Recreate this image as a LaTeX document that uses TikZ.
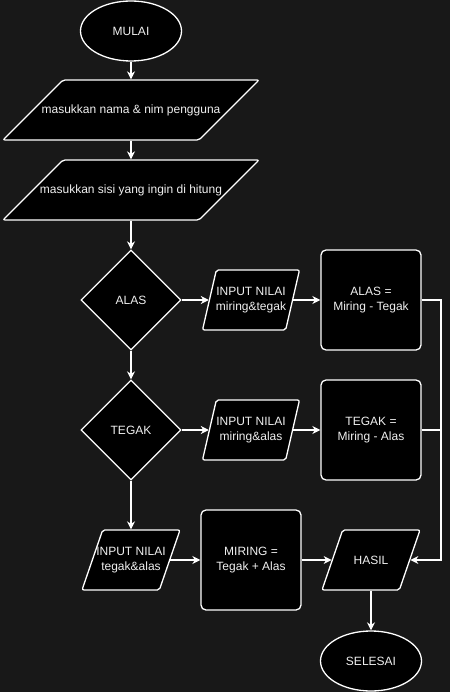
\documentclass[tikz,border=0pt]{standalone}
\usepackage{fontspec}
\setmainfont{Liberation Sans}
\usepackage{xcolor}
\usepackage{tikz}
\usetikzlibrary {arrows.meta}
\usetikzlibrary{calc}
\usetikzlibrary{shapes.geometric, shapes.misc}
\definecolor{latar}{HTML}{181818}
\definecolor{teks}{HTML}{F0F0F0}
\tikzstyle{arrow} =[-{Stealth[length=8pt, width=8pt, inset=2.5pt]}, line width=1.3pt, white]
\tikzstyle{garis} =[line width=1.3pt, white]
\tikzstyle{tulisan} =[text=teks, font=\fontsize{12}{15.5}\selectfont, align=center, inner sep=0pt]
\tikzstyle{blok} =[tulisan, draw=white, fill=black, line width=1.3pt]
\tikzstyle{terminal} =[blok, ellipse, minimum width=101pt, minimum height=60pt]
\tikzstyle{io} =[blok, trapezium, trapezium stretches body=true, rounded corners=2pt, inner xsep=0pt, inner ysep=30pt]
\tikzstyle{keputusan} =[blok, diamond, minimum width=100pt, minimum height=100pt]
\tikzstyle{proses} =[blok, rectangle, rounded corners=5pt, minimum width=100pt, minimum height=100pt]

\begin{document}
\begin{tikzpicture}[x=1pt, y=-1pt]
		\useasboundingbox[fill=latar] (0,0) rectangle (450,692);
		% alur utama
		\node (mulai)[terminal] at (131,31) {MULAI};
		\node (nama)[io, trapezium left angle=45, trapezium right angle=135,
		minimum width=256pt] at (131,110) {};
		\node (namat)[tulisan] at (nama) {masukkan nama \& nim pengguna};
		\node (sisi)[io, trapezium left angle=45, trapezium right angle=135,
		minimum width=256pt] at (131,190) {};
		\node (sisit)[tulisan] at (sisi) {masukkan sisi yang ingin di hitung};
		\node (alas)[keputusan] at (131,300) {ALAS};
		\node (tegak)[keputusan] at (131,430) {TEGAK};
		% cabang kanan
		\node (inalas)[io, trapezium left angle=77, trapezium right angle=103,
		minimum width=97pt] at (251,300) {};
		\node (inalast)[tulisan] at (inalas) {INPUT NILAI\\miring\&tegak};
		\node (integak)[io, trapezium left angle=77, trapezium right angle=103,
		minimum width=97pt] at (251,430) {};
		\node (integakt)[tulisan] at (integak) {INPUT NILAI\\miring\&alas};
		\node (hitalas)[proses] at (371,300) {ALAS =\\Miring - Tegak};
		\node (hittegak)[proses] at (371,430) {TEGAK =\\Miring - Alas};
		% baris bawah
		\node (inmiring)[io, trapezium left angle=71, trapezium right angle=109,
		minimum width=98pt] at (131,560) {};
		\node (inmiringt)[tulisan] at (inmiring) {INPUT NILAI\\tegak\&alas};
		\node (hitmiring)[proses] at (251,560) {MIRING =\\Tegak + Alas};
		\node (hasil)[io, trapezium left angle=71, trapezium right angle=109,
		minimum width=98pt] at (371,560) {};
		\node (hasilt)[tulisan] at (hasil) {HASIL};
		\node (selesai)[terminal] at (371,661) {SELESAI};
		\coordinate (bus) at (441,560);
		
		\draw[arrow] (mulai) -- (nama);
		\draw[arrow] (nama) -- (sisi);
		\draw[arrow] (sisi) -- (alas);
		\draw[arrow] (alas) -- (tegak);
		\draw[arrow] (tegak) -- (inmiring);
		\draw[arrow] (alas) -- (inalas);
		\draw[arrow] (inalas) -- (hitalas);
		\draw[arrow] (tegak) -- (integak);
		\draw[arrow] (integak) -- (hittegak);
		\draw[arrow] (inmiring) -- (hitmiring);
		\draw[arrow] (hitmiring) -- (hasil);
		\draw[arrow] (hitalas.east) -| (bus) -- (hasil);
		\draw[garis] (hittegak.east) -- (hittegak.east -| bus);
		\draw[arrow] (hasil) -- (selesai);
		\end{tikzpicture}
\end{document}
